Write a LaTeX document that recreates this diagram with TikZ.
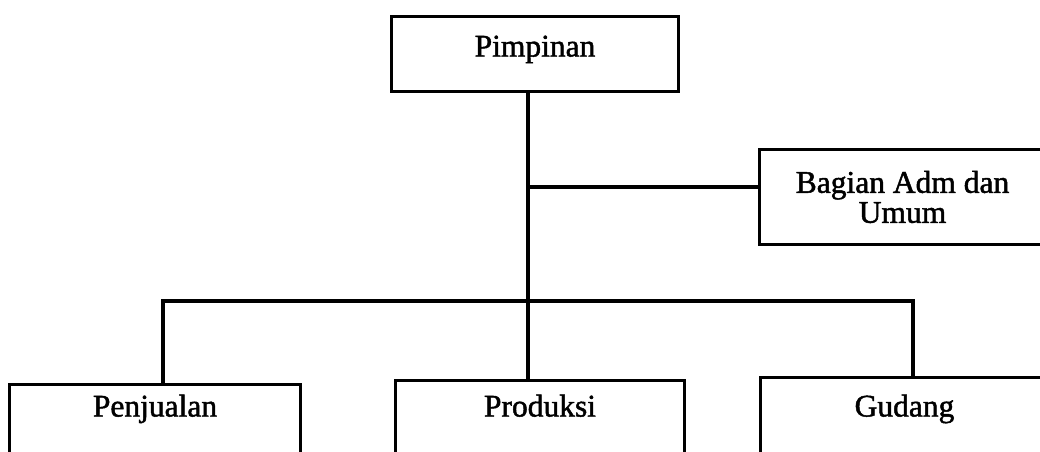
\documentclass[tikz,border=0pt]{standalone}
\usepackage{fontspec}
\setmainfont{Liberation Serif}
\newfontfamily\scanfont[FakeBold=1.5]{Liberation Serif}
\begin{document}
\begin{tikzpicture}[x=1pt,y=-1pt,
  orgbox/.style={draw, line width=3pt, rectangle, align=center, inner sep=0pt,
    font=\scanfont\fontsize{31.5}{30}\selectfont},
  cutbox/.style={orgbox, anchor=north west, text depth=70pt},
  conn/.style={line width=3.2pt}]
\useasboundingbox (0,0) rectangle (1040,451);
\clip (0,0) rectangle (1040,451);
\node[orgbox, anchor=north west, minimum width=287pt, text height=40pt, text depth=35pt] (pim) at (390,15) {Pimpinan};
\node[orgbox, anchor=north west, minimum width=286pt, minimum height=95pt] (adm) at (758,148) {Bagian Adm dan\\Umum};
\node[cutbox, minimum width=291pt, text height=32pt] (pen) at (8,383) {Penjualan};
\node[cutbox, minimum width=289pt, text height=36pt] (pro) at (394,379) {Produksi};
\node[cutbox, minimum width=288pt, text height=39pt] (gud) at (759,376) {Gudang};
\coordinate (j1) at (528,187);
\coordinate (jl) at (163,301);
\coordinate (jr) at (913,301);
\draw[conn] (j1 |- pim.south) -- (j1 |- pro.north);
\draw[conn] (j1) -- (adm.west |- j1);
\draw[conn] (jl |- pen.north) -- (jl) -- (jr) -- (jr |- gud.north);
\end{tikzpicture}
\end{document}
